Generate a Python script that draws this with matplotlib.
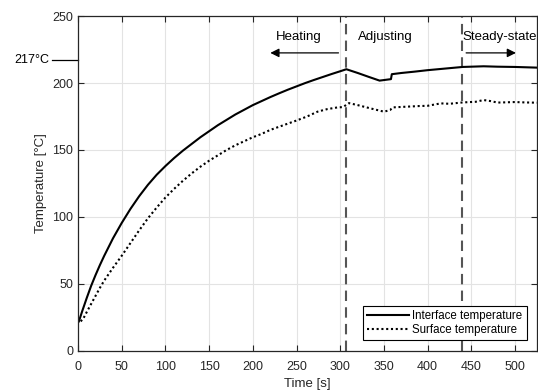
import matplotlib
matplotlib.use("Agg")
import matplotlib.pyplot as plt
from matplotlib.transforms import blended_transform_factory

plt.rcParams['font.family'] = ['Liberation Sans', 'DejaVu Sans']

# Interface temperature (solid line)
t_interface = [1, 5, 10, 15, 20, 25, 30, 40, 50, 60, 70, 80, 90, 100, 110, 120,
               130, 140, 150, 160, 170, 180, 190, 200, 210, 220, 230, 240, 250,
               260, 270, 280, 290, 300, 307, 320, 333, 345, 358, 359, 370, 385,
               400, 420, 440, 464, 480, 500, 525]
T_interface = [22, 30, 39.5, 48.5, 56.5, 64, 71, 84, 95.5, 106, 115.5, 124,
               131.5, 138, 144, 149.5, 154.5, 159.5, 164, 168.5, 172.5, 176.5,
               180, 183.5, 186.5, 189.5, 192.3, 195, 197.5, 200, 202.3, 204.5,
               206.7, 208.8, 210.3, 207.5, 204.5, 201.8, 202.9, 206.6, 207.5,
               208.5, 209.6, 210.8, 212, 212.5, 212.2, 212, 211.5]

# Surface temperature (dotted line)
t_surface = [3, 6, 10, 15, 20, 25, 30, 40, 50, 60, 70, 80, 90, 100, 110, 120,
             130, 140, 150, 160, 170, 180, 190, 200, 210, 220, 235, 250, 262,
             274, 285, 297, 303, 310, 320, 335, 350, 357, 360, 375, 390, 400,
             415, 425, 440, 455, 464, 472, 480, 490, 500, 512, 525]
T_surface = [22, 24, 29, 35, 41, 47, 52.5, 62, 71, 80.5, 90, 99, 107, 114.5,
             121, 127, 132.5, 137.5, 142, 146, 150, 153.5, 156.5, 159.5, 162,
             165, 168.5, 172, 175, 178.6, 180.5, 181.8, 182, 185, 183.5, 181,
             178.6, 179.8, 181.8, 182.3, 182.8, 183, 184.8, 184.5, 185.5, 186,
             187.3, 186.5, 185.4, 185.6, 185.8, 185.5, 185.3]

# phase boundaries [s] and melting point [°C]
phase_bounds = [307, 439]
melt_temp = 217

GRAY = '#262626'

fig = plt.figure(figsize=(5.38, 3.92), dpi=100)
ax = fig.add_axes([0.145, 0.105, 0.853, 0.854])

ax.plot(t_interface, T_interface, color='black', lw=1.5, label='Interface temperature')
ax.plot(t_surface, T_surface, color='black', lw=1.5, linestyle=(0, (1, 1.3)),
        label='Surface temperature')

for xb in phase_bounds:
    ax.axvline(xb, color='#555555', lw=1.5, linestyle=(0, (5, 3)), zorder=1)

ax.set_xlim(0, 525)
ax.set_ylim(0, 250)
ax.set_xticks(range(0, 501, 50))
ax.set_yticks(range(0, 251, 50))
ax.grid(True, color='#e3e3e3', lw=0.8)
ax.set_axisbelow(True)
ax.tick_params(direction='in', top=True, right=True, length=4, width=0.8,
               colors=GRAY, labelsize=9, labelcolor=GRAY)
ax.tick_params(axis='x', pad=7)
for s in ax.spines.values():
    s.set_color(GRAY)
    s.set_linewidth(0.9)

ax.set_xlabel('Time [s]', fontsize=9.5, color=GRAY, labelpad=4)
ax.set_ylabel('Temperature [°C]', fontsize=9.5, color=GRAY, labelpad=4)

# melting point marker outside the y-axis
trans = blended_transform_factory(ax.transAxes, ax.transData)
ax.plot([-0.056, 0], [melt_temp, melt_temp], color='black', lw=0.9,
        transform=trans, clip_on=False)
ax.text(-0.062, melt_temp, f'{melt_temp}°C', transform=trans, ha='right',
        va='center', fontsize=9, color='black')

# phase labels and arrows
ax.text(226, 234, 'Heating', fontsize=9.5, va='center', ha='left')
ax.text(320, 234, 'Adjusting', fontsize=9.5, va='center', ha='left')
ax.text(440, 234, 'Steady-state', fontsize=9.5, va='center', ha='left')
ax.annotate('', xy=(220, 222.5), xytext=(298, 222.5),
            arrowprops=dict(arrowstyle='-|>', color='black', lw=0.9,
                            mutation_scale=13, shrinkA=0, shrinkB=0))
ax.annotate('', xy=(501, 222.5), xytext=(444, 222.5),
            arrowprops=dict(arrowstyle='-|>', color='black', lw=0.9,
                            mutation_scale=13, shrinkA=0, shrinkB=0))

leg = ax.legend(loc='lower right', fontsize=8.3, handlelength=3.6,
                fancybox=False, framealpha=1, edgecolor='black',
                borderaxespad=0.9, borderpad=0.35, labelspacing=0.25,
                handletextpad=0.3)
leg.get_frame().set_linewidth(0.8)

fig.savefig('out.png', dpi=100)
